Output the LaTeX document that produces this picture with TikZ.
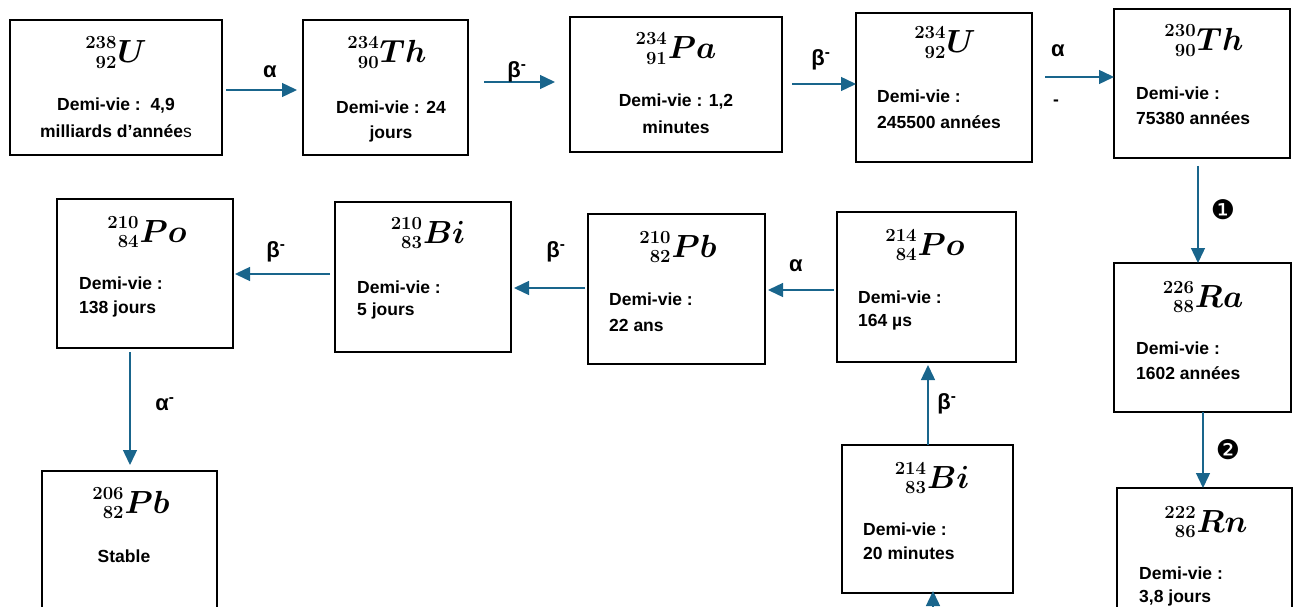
\RequirePackage{fix-cm}
\documentclass[tikz,border=0pt]{standalone}
\usepackage[no-math]{fontspec}
\usepackage{amsmath}
\setmainfont{Liberation Sans}
\newfontfamily\dingfont{DejaVu Sans}
\usetikzlibrary{arrows.meta}
\definecolor{arrowblue}{RGB}{25,101,140}
\newcommand{\iso}[3]{\mbox{\fontsize{18.5}{20}\selectfont
  \setbox0=\hbox{$\mathbf{#1}$}%
  \setbox2=\hbox{$\mathbf{#2}$}%
  \dimen0=\ifdim\wd0>\wd2 \wd0\else\wd2\fi
  \makebox[\dimen0][r]{\raisebox{14pt}{\copy0}}\kern-\dimen0
  \makebox[\dimen0][r]{\raisebox{-5.7pt}{\copy2}}%
  \kern1pt{\fontsize{32}{36}\selectfont\boldmath$#3$}}}
\begin{document}
\begin{tikzpicture}[x=1pt,y=-1pt,
  nbox/.style={draw=black, line width=1.5pt, inner sep=0pt, outer sep=0pt},
  isolbl/.style={inner sep=0pt, anchor=base},
  txt/.style={font=\fontsize{17.5}{20}\selectfont\bfseries, inner sep=0pt},
  ltxt/.style={txt, anchor=west},
  arr/.style={draw=arrowblue, line width=1.4pt, -{Triangle[length=15pt,width=14pt]}},
  lbl/.style={font=\fontsize{22}{26}\selectfont\bfseries, inner sep=0pt},
  num/.style={font=\dingfont\fontsize{27}{30}\selectfont, inner sep=0pt}]
\useasboundingbox (0,0) rectangle (1296,607);

% boxes
\node[nbox, minimum width=212pt, minimum height=135pt] (U238) at (116,87.5) {};
\node[nbox, minimum width=165pt, minimum height=135pt] (Th234) at (385.5,87.5) {};
\node[nbox, minimum width=212pt, minimum height=135pt] (Pa234) at (676,84.5) {};
\node[nbox, minimum width=176pt, minimum height=149pt] (U234) at (944,87.5) {};
\node[nbox, minimum width=176pt, minimum height=149pt] (Th230) at (1202,83.5) {};
\node[nbox, minimum width=177pt, minimum height=149pt] (Ra226) at (1202.5,337.5) {};
\node[nbox, minimum width=175pt, minimum height=149pt] (Rn222) at (1204.5,562.5) {};
\node[nbox, minimum width=179pt, minimum height=150pt] (Po214) at (926.5,287) {};
\node[nbox, minimum width=171pt, minimum height=148pt] (Bi214) at (927.5,519) {};
\node[nbox, minimum width=177pt, minimum height=150pt] (Pb210) at (676.5,289) {};
\node[nbox, minimum width=176pt, minimum height=150pt] (Bi210) at (423,277) {};
\node[nbox, minimum width=176pt, minimum height=149pt] (Po210) at (145,273.5) {};
\node[nbox, minimum width=175pt, minimum height=149pt] (Pb206) at (129.5,545.5) {};

% isotope symbols
\node[isolbl] (iU238) at (116,63) {\iso{238}{92}{U}};
\node[isolbl] (iTh234) at (387,63) {\iso{234}{90}{Th}};
\node[isolbl] (iPa234) at (676,59) {\iso{234}{91}{Pa}};
\node[isolbl] (iU234) at (945,53) {\iso{234}{92}{U}};
\node[isolbl] (iTh230) at (1204,51) {\iso{230}{90}{Th}};
\node[isolbl] (iRa226) at (1203,307) {\iso{226}{88}{Ra}};
\node[isolbl] (iRn222) at (1206,532) {\iso{222}{86}{Rn}};
\node[isolbl] (iPo214) at (925,255) {\iso{214}{84}{Po}};
\node[isolbl] (iBi214) at (932,488) {\iso{214}{83}{Bi}};
\node[isolbl] (iPb210) at (678,257) {\iso{210}{82}{Pb}};
\node[isolbl] (iBi210) at (428,243) {\iso{210}{83}{Bi}};
\node[isolbl] (iPo210) at (147,242) {\iso{210}{84}{Po}};
\node[isolbl] (iPb206) at (131,513) {\iso{206}{82}{Pb}};

% texts
\node[txt] (tU238a) at (116,106) {Demi-vie :\ \ 4,9};
\node[txt] (tU238b) at (116,131) {milliards d’année{\mdseries s}};
\node[txt] (tTh234a) at (391,107) {Demi-vie : 24};
\node[txt] (tTh234b) at (391,134) {jours};
\node[txt] (tPa234a) at (676,102) {Demi-vie : 1,2};
\node[txt] (tPa234b) at (676,127) {minutes};
\node[ltxt] (tU234a) at (877,96) {Demi-vie :};
\node[ltxt] (tU234b) at (877,122) {245500 années};
\node[ltxt] (tTh230a) at (1136,93) {Demi-vie :};
\node[ltxt] (tTh230b) at (1136,118) {75380 années};
\node[ltxt] (tRa226a) at (1136,348) {Demi-vie :};
\node[ltxt] (tRa226b) at (1136,373) {1602 années};
\node[ltxt] (tRn222a) at (1139,573) {Demi-vie :};
\node[ltxt] (tRn222b) at (1139,598) {3,8 jours};
\node[ltxt] (tPo214a) at (858,297) {Demi-vie :};
\node[ltxt] (tPo214b) at (858,322) {164 µs};
\node[ltxt] (tBi214a) at (863,529) {Demi-vie :};
\node[ltxt] (tBi214b) at (863,553) {20 minutes};
\node[ltxt] (tPb210a) at (609,299) {Demi-vie :};
\node[ltxt] (tPb210b) at (609,325) {22 ans};
\node[ltxt] (tBi210a) at (357,287) {Demi-vie :};
\node[ltxt] (tBi210b) at (357,311) {5 jours};
\node[ltxt] (tPo210a) at (79,283) {Demi-vie :};
\node[ltxt] (tPo210b) at (79,309) {138 jours};
\node[txt] (tPb206) at (124,556) {Stable};

% connectors
\coordinate (src) at (933,650);
\draw[arr, shorten <=4pt, shorten >=6pt] (U238.east |- 0,90) -- (Th234.west |- 0,90);
\draw[arr, shorten <=16pt, shorten >=15pt] (Th234.east |- 0,82) -- (Pa234.west |- 0,82);
\draw[arr, shorten <=10pt] (Pa234.east |- 0,84) -- (U234.west |- 0,84);
\draw[arr, shorten <=13pt] (U234.east |- 0,77) -- (Th230.west |- 0,77);
\draw[arr, shorten <=8pt] (Th230.south -| 1198,0) -- (Ra226.north -| 1198,0);
\draw[arr] (Ra226.south -| 1203,0) -- (Rn222.north -| 1203,0);
\draw[arr, shorten >=-2pt] (src) -- (Bi214.south -| 933,0);
\draw[arr, shorten >=3pt] (Bi214.north -| 928,0) -- (Po214.south -| 928,0);
\draw[arr, shorten <=3pt, shorten >=3pt] (Po214.west |- 0,290) -- (Pb210.east |- 0,290);
\draw[arr, shorten <=3pt, shorten >=3pt] (Pb210.west |- 0,288) -- (Bi210.east |- 0,288);
\draw[arr, shorten <=5pt, shorten >=2pt] (Bi210.west |- 0,274) -- (Po210.east |- 0,274);
\draw[arr, shorten <=4pt, shorten >=6pt] (Po210.south -| 130,0) -- (Pb206.north -| 130,0);

% labels
\node[lbl] (l1) at (270,72) {α};
\node[lbl] (l2) at (517,72) {β\textsuperscript{-}};
\node[lbl] (l3) at (821,60) {β\textsuperscript{-}};
\node[lbl] (l4) at (1058,51) {α};
\node[txt] (l4b) at (1056,103) {-};
\node[num] (n1) at (1223,210) {❶};
\node[num] (n2) at (1228,450) {❷};
\node[lbl] (l8) at (947,404) {β\textsuperscript{-}};
\node[lbl] (l9) at (796,266) {α};
\node[lbl] (l10) at (556,252) {β\textsuperscript{-}};
\node[lbl] (l11) at (276,252) {β\textsuperscript{-}};
\node[lbl] (l12) at (165,404) {α\textsuperscript{-}};
\end{tikzpicture}
\end{document}
